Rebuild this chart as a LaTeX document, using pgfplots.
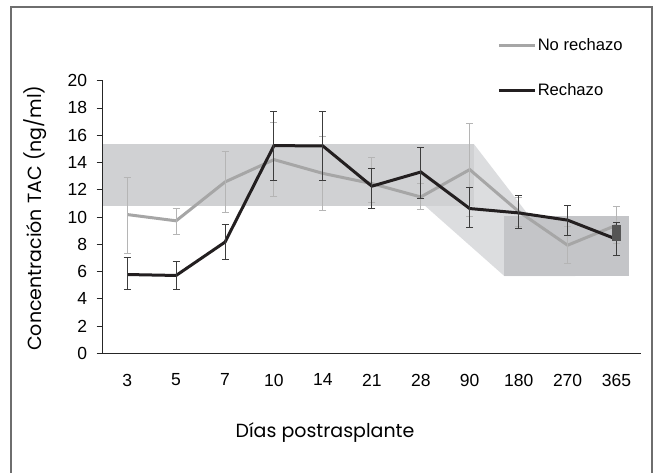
\documentclass[border=0pt]{standalone}
\usepackage{fontspec}
\setmainfont{Liberation Sans}
\newfontfamily\titlefont{Poppins}
\usepackage{pgfplots}
\pgfplotsset{compat=1.18}

\definecolor{bandgray}{HTML}{D0D1D3}
\definecolor{slopegray}{HTML}{DCDDDF}
\definecolor{boxgray}{HTML}{C4C5C8}
\definecolor{darkbox}{HTML}{555555}
\definecolor{norech}{HTML}{A6A6A6}
\definecolor{rech}{HTML}{231F20}
\definecolor{norecherr}{HTML}{B5B5B5}
\definecolor{recherr}{HTML}{3C3C3C}
\definecolor{framegray}{HTML}{6E6E6E}

\begin{document}
\begin{tikzpicture}[x=1pt,y=1pt]
\path[use as bounding box] (0,0) rectangle (655,473);
\draw[framegray, line width=2pt] (10.7,0) -- (10.7,465.7) -- (651.7,465.7) -- (651.7,0);
\begin{axis}[
    at={(102.7pt,119.7pt)}, anchor=south west,
    scale only axis,
    width=538.3pt, height=272.6pt,
    xmin=-0.5, xmax=10.5,
    ymin=0, ymax=20,
    axis x line=bottom, axis y line=left,
    axis line style={-, line width=0.9pt, black!85},
    tick style={line width=0.9pt, black!85},
    tick align=outside,
    major tick length=6pt,
    ytick={0,2,...,20},
    xtick={0,...,10},
    xticklabels={3,5,7,10,14,21,28,90,180,270,365},
    x tick style={draw=none},
    extra x ticks={-0.5,0.5,...,10.5},
    extra x tick labels={},
    extra x tick style={tick style={draw=black!85, line width=0.9pt}, major tick length=6pt},
    tick label style={font=\fontsize{17.5}{20}\selectfont},
    /pgf/number format/assume math mode=true,
    xticklabel style={yshift=-11pt},
    yticklabel style={xshift=-6pt},
    xlabel={\titlefont Días postrasplante},
    ylabel={\titlefont Concentración TAC (ng/ml)},
    xlabel style={at={(axis description cs:0.413,-0.29)}, anchor=center, font=\fontsize{19}{22}\selectfont},
    ylabel style={at={(axis description cs:-0.1258,0.496)}, anchor=center, rotate=0, font=\fontsize{19}{22}\selectfont},
    legend style={at={(axis description cs:0.727,1.0466)}, anchor=west,
        draw=none, fill=none, font=\fontsize{16.6}{19}\selectfont,
        row sep=28pt, nodes={inner sep=1.5pt}},
    legend cell align=left,
    legend image code/.code={\draw[#1] (0pt,0pt) -- (36pt,0pt);},
]
% shaded target ranges
\addplot[fill=slopegray, draw=none, forget plot] coordinates {(6.08,10.84) (7.09,15.33) (9.16,5.66) (7.71,5.66)} -- cycle;
\addplot[fill=bandgray, draw=none, forget plot] coordinates {(-0.5,10.84) (7.09,10.84) (7.09,15.33) (-0.5,15.33)} -- cycle;
\addplot[fill=boxgray, draw=none, forget plot] coordinates {(7.71,5.66) (10.25,5.66) (10.25,10.06) (7.71,10.06)} -- cycle;

% No rechazo
\addplot[color=norech, line width=3pt,
    error bars/.cd, y dir=both, y explicit,
    error bar style={line width=1pt, color=norecherr},
    error mark=-,
    error mark options={rotate=90, line width=1pt, color=norecherr, mark size=3.5pt}
] coordinates {
    (0,10.18) += (0,2.71) -= (0,2.85)
    (1,9.72)  += (0,0.90) -= (0,0.98)
    (2,12.57) += (0,2.20) -= (0,2.22)
    (3,14.21) += (0,2.71) -= (0,2.74)
    (4,13.20) += (0,2.72) -= (0,2.75)
    (5,12.45) += (0,1.95) -= (0,1.42)
    (6,11.47) += (0,0.98) -= (0,0.92)
    (7,13.48) += (0,3.37) -= (0,3.42)
    (8,10.40) += (0,1.00) -= (0,1.07)
    (9,7.93)  += (0,1.35) -= (0,1.34)
    (10,9.40) += (0,1.34) -= (0,1.34)
};
\addlegendentry{No rechazo}

% Rechazo
\addplot[color=rech, line width=3pt,
    error bars/.cd, y dir=both, y explicit,
    error bar style={line width=1pt, color=recherr},
    error mark=-,
    error mark options={rotate=90, line width=1pt, color=recherr, mark size=3.5pt}
] coordinates {
    (0,5.78)  += (0,1.25) -= (0,1.12)
    (1,5.71)  += (0,1.05) -= (0,1.05)
    (2,8.16)  += (0,1.31) -= (0,1.30)
    (3,15.24) += (0,2.53) -= (0,2.54)
    (4,15.21) += (0,2.56) -= (0,2.51)
    (5,12.26) += (0,1.29) -= (0,1.64)
    (6,13.30) += (0,1.79) -= (0,1.95)
    (7,10.62) += (0,1.54) -= (0,1.39)
    (8,10.30) += (0,1.25) -= (0,1.14)
    (9,9.77)  += (0,1.04) -= (0,1.10)
    (10,8.37) += (0,1.22) -= (0,1.22)
};
\addlegendentry{Rechazo}

\addplot[fill=darkbox, draw=none, forget plot] coordinates {(9.9,8.23) (10.1,8.23) (10.1,9.43) (9.9,9.43)} -- cycle;
\end{axis}
\end{tikzpicture}
\end{document}
